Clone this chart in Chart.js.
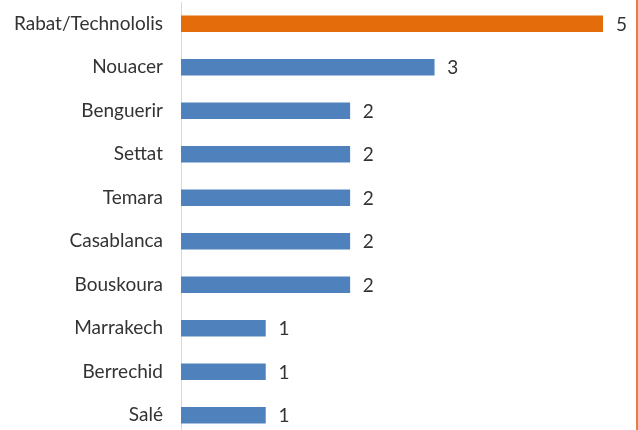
<!DOCTYPE html>
<html>
<head>
<meta charset="utf-8">
<script src="https://cdn.jsdelivr.net/npm/chart.js@4"></script>
<style>
    html, body { margin: 0; padding: 0; background: #fff; overflow: hidden; }
    .wrap { width: 636px; height: 430px; border-right: 2px solid #e5803f; overflow: hidden; }
</style>
</head>
<body>
<div class="wrap">
    <canvas id="chart" width="636" height="440"></canvas>
</div>
<script>
const categories = ['Rabat/Technololis', 'Nouacer', 'Benguerir', 'Settat', 'Temara',
    'Casablanca', 'Bouskoura', 'Marrakech', 'Berrechid', 'Salé'];
const values = [5, 3, 2, 2, 2, 2, 2, 1, 1, 1];
const barColors = ['#e46c0a', '#4f81bd', '#4f81bd', '#4f81bd', '#4f81bd',
    '#4f81bd', '#4f81bd', '#4f81bd', '#4f81bd', '#4f81bd'];

const fontFamily = 'Lato, "Open Sans", sans-serif';
const textColor = '#333333';

// value labels to the right of every bar
const valueLabels = {
    id: 'valueLabels',
    afterDatasetsDraw(chart) {
        const ctx = chart.ctx;
        const meta = chart.getDatasetMeta(0);
        ctx.save();
        ctx.font = '19px ' + fontFamily;
        ctx.fillStyle = textColor;
        ctx.textAlign = 'left';
        ctx.textBaseline = 'middle';
        meta.data.forEach((bar, i) => {
            ctx.fillText(values[i], bar.x + 13, bar.y + 1);
        });
        ctx.restore();
    }
};

new Chart(document.getElementById('chart'), {
    type: 'bar',
    data: {
        labels: categories,
        datasets: [{
            data: values,
            backgroundColor: barColors,
            barThickness: 16,
        }]
    },
    options: {
        indexAxis: 'y',
        responsive: false,
        animation: false,
        layout: { padding: { top: 2, right: 33, bottom: 3, left: 0 } },
        plugins: {
            legend: { display: false },
            tooltip: { enabled: false }
        },
        scales: {
            x: {
                display: false,
                min: 0,
                max: 5
            },
            y: {
                afterFit: (scale) => {
                    scale.width = 181;
                    scale.paddingTop = 0;
                    scale.paddingBottom = 0;
                },
                grid: { display: false, drawTicks: false },
                border: { color: '#d9d9d9', width: 1 },
                ticks: {
                    padding: 18,
                    color: textColor,
                    font: { family: fontFamily, size: 19 }
                }
            }
        }
    },
    plugins: [valueLabels]
});
</script>
</body>
</html>
